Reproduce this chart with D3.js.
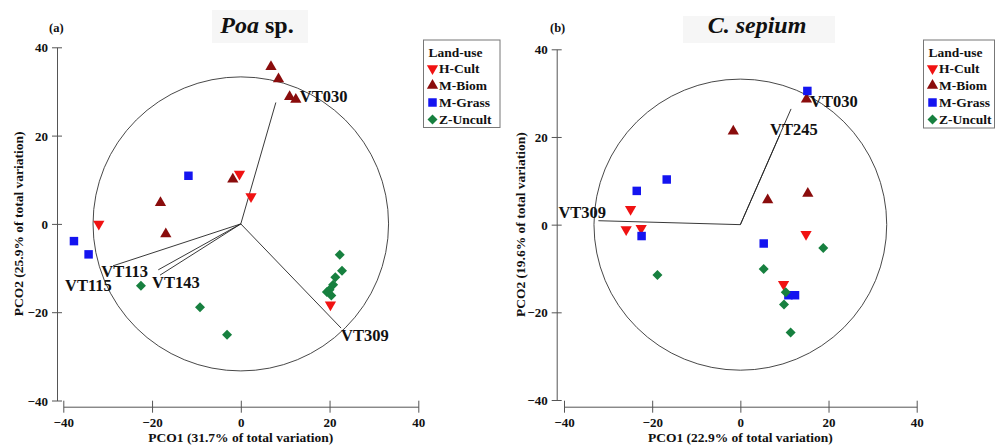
<!DOCTYPE html>
<html><head><meta charset="utf-8">
<script src="https://cdn.jsdelivr.net/npm/d3@7"></script>
<style>html,body{margin:0;padding:0;background:#fff;}svg{display:block;}</style>
</head><body>
<svg id="chart" width="995" height="445"></svg>
<script>
// ---------- DATA ----------
const groups = ["H-Cult", "M-Biom", "M-Grass", "Z-Uncult"];
const ticks = [-40, -20, 0, 20, 40];

// Panel (a) Poa sp.
const poaHCult   = [[-0.3,11.3],[2.3,6.2],[-32,0],[20.2,-18.3]];
const poaMBiom   = [[6.8,35.6],[8.5,32.8],[11.0,28.8],[12.4,28.2],[-1.8,10.1],[-18.1,4.8],[-16.9,-2.3]];
const poaMGrass  = [[-11.8,10.9],[-37.6,-3.9],[-34.3,-6.9]];
const poaZUncult = [[22.3,-7.0],[22.8,-10.6],[21.3,-12.1],[20.8,-13.8],[20.0,-14.9],[19.4,-15.4],[20.4,-16.2],[-22.5,-14],[-9.2,-18.9],[-3.1,-25.1]];
const poaVectorNames = ["VT030","VT309","VT115","VT113","VT143"];
const poaVectorX = [7.9, 22.6, -28.8, -18.6, -18.2];
const poaVectorY = [27.5, -23.6, -9.5, -10.4, -11.6];
const poaCircleRadius = 33.3;
const poaXTitle = "PCO1 (31.7% of total variation)";
const poaYTitle = "PCO2 (25.9% of total variation)";

// Panel (b) C. sepium
const sepHCult   = [[-24.9,3.5],[-25.9,-1.1],[-22.5,-0.8],[14.9,-2.2],[9.8,-13.6]];
const sepMBiom   = [[15.0,28.6],[-1.6,21.3],[6.2,5.6],[15.3,7.1]];
const sepMGrass  = [[15.2,30.5],[-16.7,10.3],[-23.5,7.7],[-22.4,-2.6],[5.3,-4.3],[10.9,-16.1],[12.4,-16.1]];
const sepZUncult = [[18.8,-5.3],[-18.8,-11.5],[5.3,-10.1],[10.3,-15.4],[9.9,-18.2],[11.4,-24.6]];
const sepVectorNames = ["VT030","VT245","VT309"];
const sepVectorX = [11.5, 9.0, -32.2];
const sepVectorY = [26.4, 20.6, 0.9];
const sepCircleRadius = 33.2;
const sepXTitle = "PCO1 (22.9% of total variation)";
const sepYTitle = "PCO2 (19.6% of total variation)";

// ---------- STYLE / LAYOUT ----------
const FONT = "'Liberation Serif','Times New Roman',Times,serif";
const colors = {"H-Cult":"#f01212","M-Biom":"#8a0c0c","M-Grass":"#1414f0","Z-Uncult":"#17803f"};
const symbolOf = {
  "H-Cult":  {type:d3.symbolTriangle, size:55, rot:180},
  "M-Biom":  {type:d3.symbolTriangle, size:55, rot:0},
  "M-Grass": {type:d3.symbolSquare,   size:72, rot:0},
  "Z-Uncult":{type:d3.symbolSquare,   size:50, rot:45}
};

const panels = [
  {
    tag:"(a)", tagX:49, title:["Poa"," sp."], titleX:257, titleBg:[212,10,96,33],
    xRange:[63.3,418.3], yRange:[400.5,47.3], axisXpos:57, axisYpos:406.7,
    xTitle:poaXTitle, yTitle:poaYTitle, yTitleX:18,
    series:[poaHCult,poaMBiom,poaMGrass,poaZUncult],
    vNames:poaVectorNames, vX:poaVectorX, vY:poaVectorY, radius:poaCircleRadius,
    labelOffsets:[[24,0],[0,13],[-48,25],[-57,7.5],[-8,12.5]],
    legend:{x:423.5,y:40,w:76.5,h:87.5}
  },
  {
    tag:"(b)", tagX:550, title:["C. sepium",""], titleX:757, titleBg:[683,16,152,27],
    xRange:[564,916.7], yRange:[400,49.3], axisXpos:556.7, axisYpos:406.7,
    xTitle:sepXTitle, yTitle:sepYTitle, yTitleX:520,
    series:[sepHCult,sepMBiom,sepMGrass,sepZUncult],
    vNames:sepVectorNames, vX:sepVectorX, vY:sepVectorY, radius:sepCircleRadius,
    labelOffsets:[[19,-2],[-10,1],[-40,-3]],
    legend:{x:923.5,y:40,w:71,h:88}
  }
];

const svg = d3.select("#chart");

function symPath(g){ return d3.symbol().type(symbolOf[g].type).size(symbolOf[g].size)(); }

panels.forEach(p => {
  const x = d3.scaleLinear().domain([-40,40]).range(p.xRange);
  const y = d3.scaleLinear().domain([-40,40]).range(p.yRange);
  const g = svg.append("g");

  // title background + title
  g.append("rect").attr("x",p.titleBg[0]).attr("y",p.titleBg[1]).attr("width",p.titleBg[2]).attr("height",p.titleBg[3]).attr("fill","#f6f6f6");
  const t = g.append("text").attr("x",p.titleX).attr("y",33).attr("text-anchor","middle")
    .attr("font-family",FONT).attr("font-size",24).attr("font-weight","bold").attr("fill","#111");
  t.append("tspan").attr("font-style","italic").text(p.title[0]);
  if (p.title[1]) t.append("tspan").text(p.title[1]);

  g.append("text").attr("x",p.tagX).attr("y",32).attr("font-family",FONT).attr("font-size",12.5)
    .attr("font-weight","bold").attr("fill","#111").text(p.tag);

  // axes
  const yAxis = d3.axisLeft(y).tickValues(ticks).tickSize(5).tickSizeOuter(0).tickPadding(4);
  const gy = g.append("g").attr("transform",`translate(${p.axisXpos},0)`).call(yAxis);
  const xAxis = d3.axisBottom(x).tickValues(ticks).tickSize(6).tickSizeOuter(0).tickPadding(4);
  const gx = g.append("g").attr("transform",`translate(0,${p.axisYpos})`).call(xAxis);
  [gy,gx].forEach(ax => {
    ax.select(".domain").attr("stroke","#555");
    ax.selectAll(".tick line").attr("stroke","#555");
    ax.selectAll(".tick text").attr("font-family",FONT).attr("font-size",13).attr("font-weight","bold").attr("fill","#111");
  });
  gy.selectAll(".tick line").attr("x2",-5).attr("x1",5);
  gy.selectAll(".tick text").attr("dy","0.35em");
  gx.selectAll(".tick line").attr("y1",-6).attr("y2",6);
  gx.selectAll(".tick text").attr("y",11);

  g.append("text").attr("x",(p.xRange[0]+p.xRange[1])/2).attr("y",442).attr("text-anchor","middle")
    .attr("font-family",FONT).attr("font-size",13.5).attr("font-weight","bold").attr("fill","#111").text(p.xTitle);
  g.append("text").attr("transform",`translate(${p.yTitleX},${y(0)}) rotate(-90)`).attr("dy","0.35em")
    .attr("text-anchor","middle").attr("font-family",FONT).attr("font-size",13.5).attr("font-weight","bold")
    .attr("fill","#111").text(p.yTitle);

  // correlation circle
  g.append("ellipse").attr("cx",x(0)).attr("cy",y(0))
    .attr("rx",x(p.radius)-x(0)).attr("ry",y(0)-y(p.radius))
    .attr("fill","none").attr("stroke","#333").attr("stroke-width",0.9);

  // vectors
  p.vNames.forEach((n,i) => {
    g.append("line").attr("x1",x(0)).attr("y1",y(0)).attr("x2",x(p.vX[i])).attr("y2",y(p.vY[i]))
      .attr("stroke","#222").attr("stroke-width",0.9);
  });

  // points
  groups.forEach((grp,gi) => {
    g.append("g").selectAll("path").data(p.series[gi]).join("path")
      .attr("d",symPath(grp))
      .attr("transform",d => `translate(${x(d[0])},${y(d[1])}) rotate(${symbolOf[grp].rot})`)
      .attr("fill",colors[grp]);
  });

  // vector labels
  p.vNames.forEach((n,i) => {
    g.append("text").attr("x",x(p.vX[i])+p.labelOffsets[i][0]).attr("y",y(p.vY[i])+p.labelOffsets[i][1])
      .attr("font-family",FONT).attr("font-size",16.5).attr("font-weight","bold").attr("fill","#111").text(n);
  });

  // legend
  const L = p.legend;
  const lg = g.append("g");
  lg.append("rect").attr("x",L.x).attr("y",L.y).attr("width",L.w).attr("height",L.h)
    .attr("fill","#fff").attr("stroke","#777").attr("stroke-width",1);
  lg.append("text").attr("x",L.x+5).attr("y",L.y+16.5).attr("font-family",FONT).attr("font-size",13.5)
    .attr("font-weight","bold").attr("fill","#111").text("Land-use");
  groups.forEach((grp,i) => {
    const cy = L.y + 28.5 + i*17;
    lg.append("path").attr("d",symPath(grp))
      .attr("transform",`translate(${L.x+9},${cy}) rotate(${symbolOf[grp].rot})`).attr("fill",colors[grp]);
    lg.append("text").attr("x",L.x+15.5).attr("y",cy+4.7).attr("font-family",FONT).attr("font-size",13.5)
      .attr("font-weight","bold").attr("fill","#111").text(grp);
  });
});
</script>
</body></html>
